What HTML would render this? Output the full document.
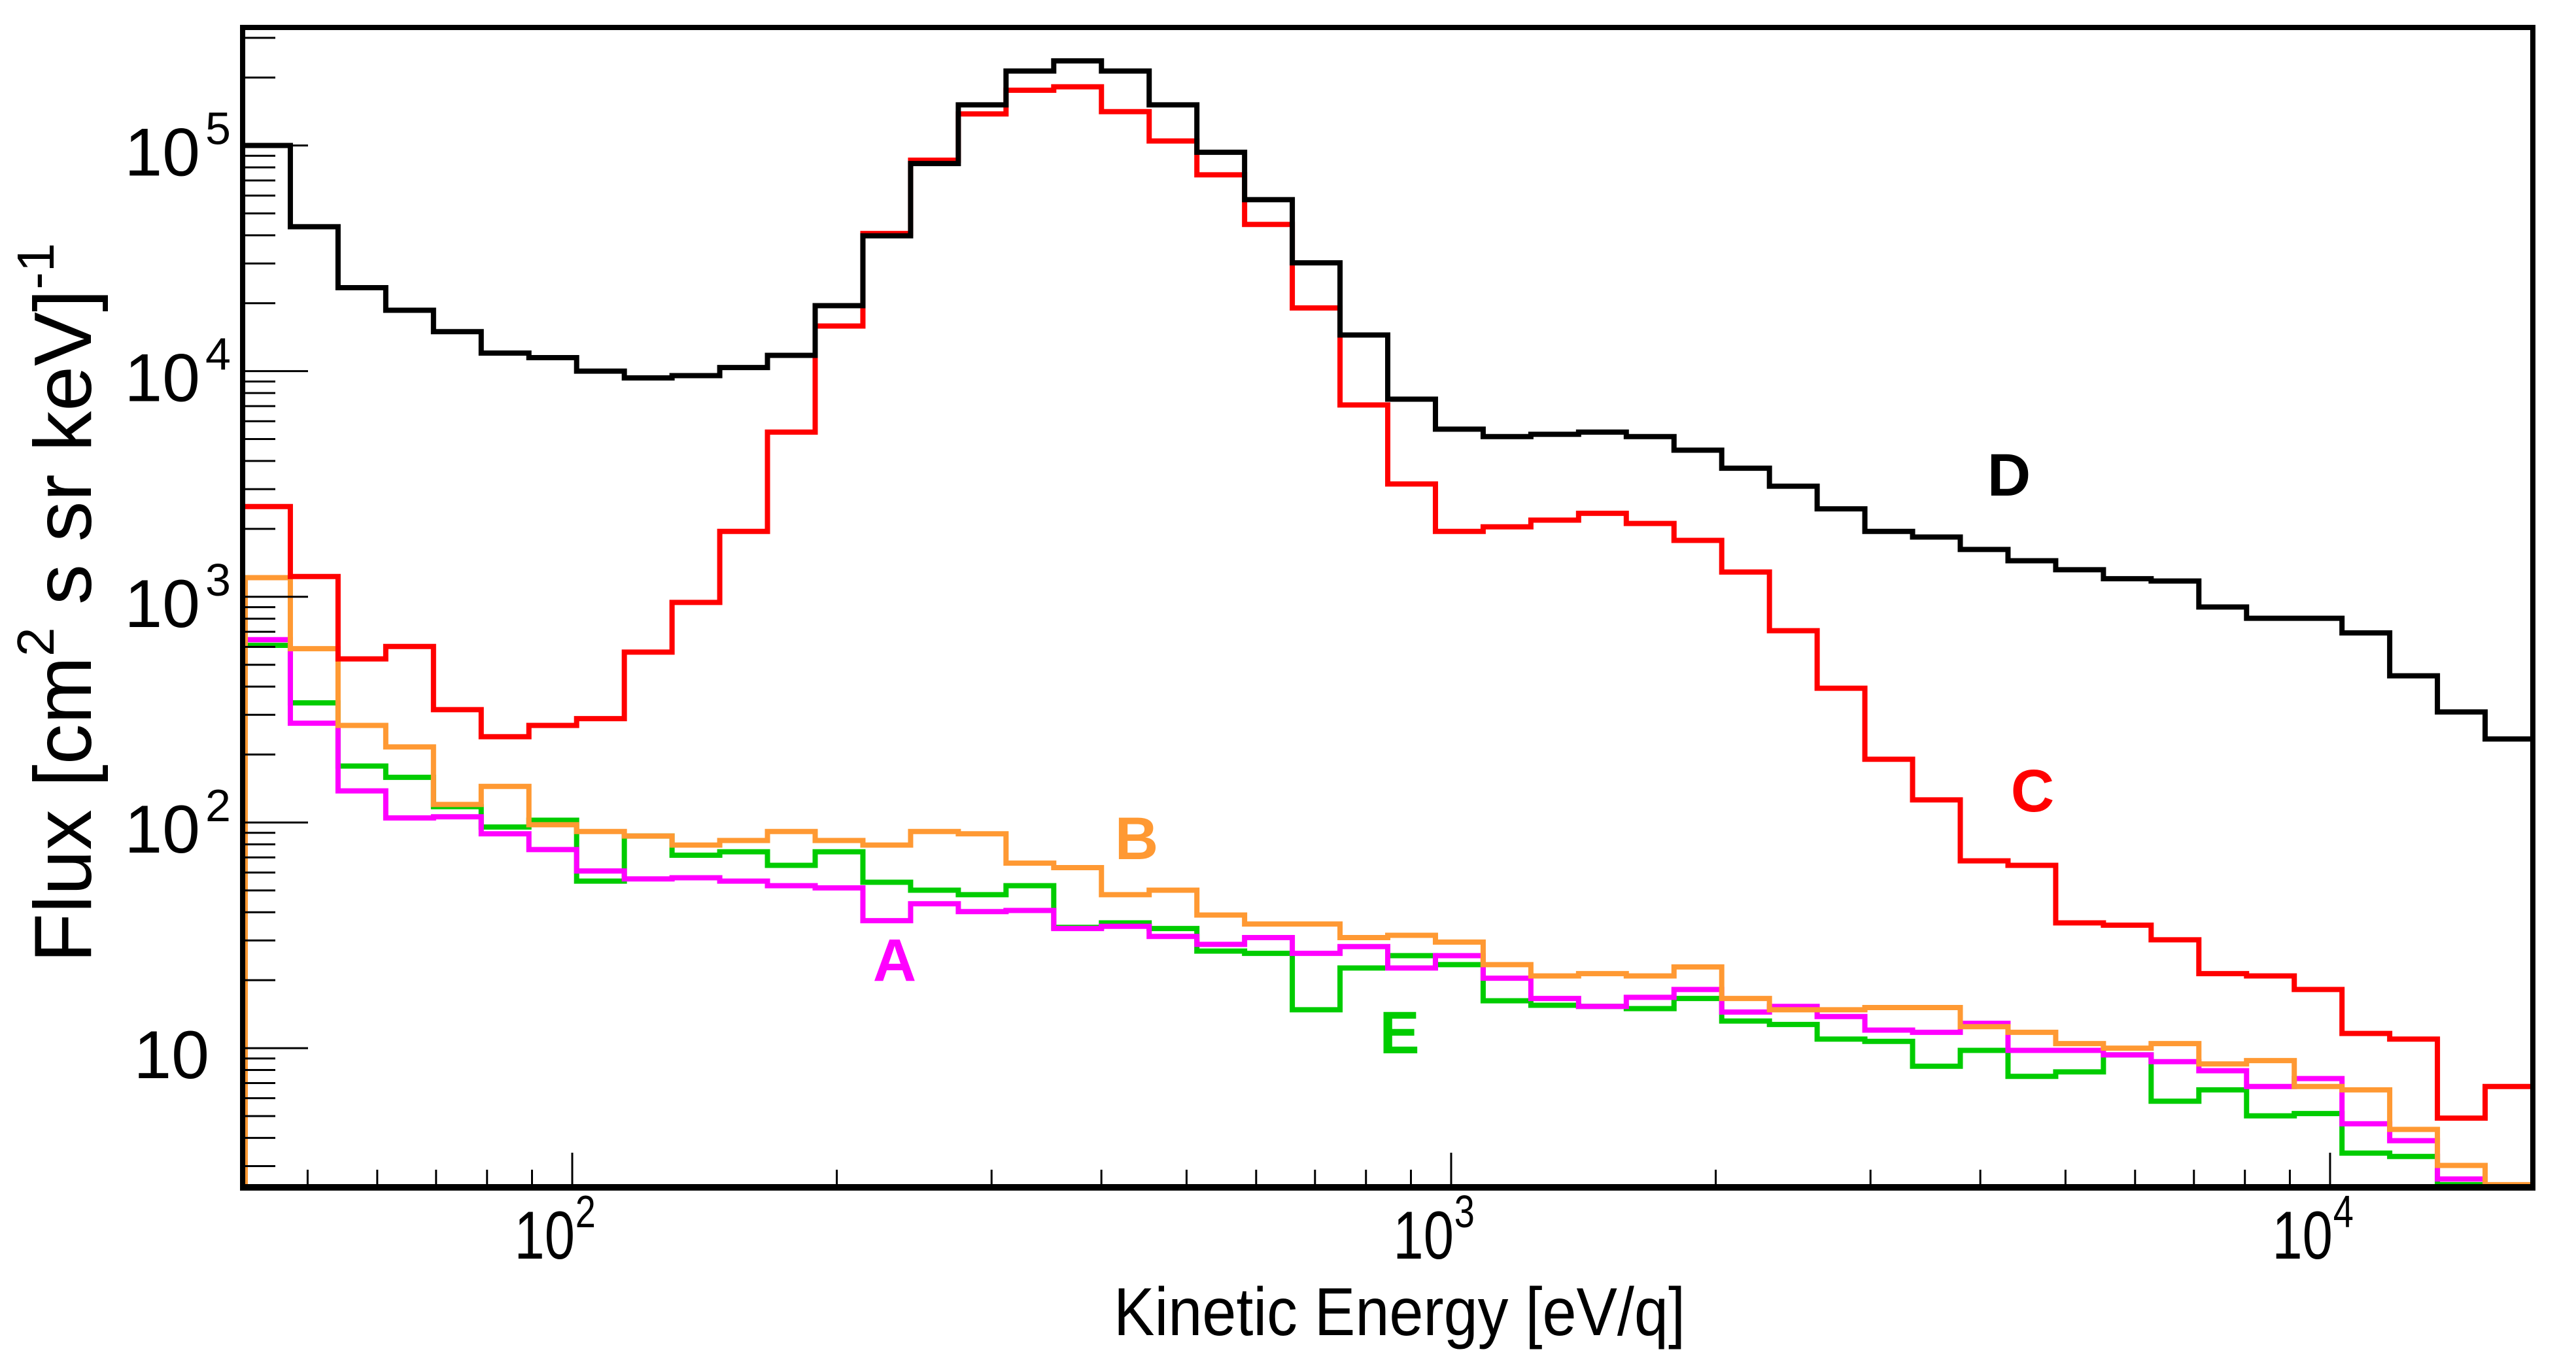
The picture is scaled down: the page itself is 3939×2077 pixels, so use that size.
<!DOCTYPE html>
<html><head><meta charset="utf-8"><style>
html,body{margin:0;padding:0;background:#fff;}
svg{display:block;font-family:"Liberation Sans",Arial,sans-serif;}
</style></head><body>
<svg id="chart" width="3939" height="2077" viewBox="0 0 3939 2077" xmlns="http://www.w3.org/2000/svg">
<rect x="0" y="0" width="3939" height="2077" fill="#fff"/>
<defs><clipPath id="plotclip"><rect x="371" y="42" width="3502" height="1773"/></clipPath></defs>
<g id="series" clip-path="url(#plotclip)"></g>
<g id="axes"></g>
<rect x="371" y="42" width="3502" height="1773" fill="none" stroke="#000" stroke-width="8"/>
<line x1="367" x2="3877" y1="1816" y2="1816" stroke="#000" stroke-width="10"/>
<text x="106" y="922" transform="rotate(-90 106 922)" text-anchor="middle" font-size="124" fill="#000" dominant-baseline="middle">Flux [cm<tspan font-size="80" dy="-45">2</tspan><tspan dy="45"> s sr keV]</tspan><tspan font-size="80" dy="-45">-1</tspan></text>
<text x="2140" y="2042" transform="translate(2140 0) scale(0.9 1) translate(-2140 0)" text-anchor="middle" font-size="104" fill="#000">Kinetic Energy [eV/q]</text>
<text x="3072" y="758" text-anchor="middle" font-size="92" font-weight="bold" fill="#000">D</text>
<text x="3108" y="1241" text-anchor="middle" font-size="92" font-weight="bold" fill="#ff0000">C</text>
<text x="1738" y="1314" text-anchor="middle" font-size="92" font-weight="bold" fill="#ff9933">B</text>
<text x="1368" y="1500" text-anchor="middle" font-size="92" font-weight="bold" fill="#ff00ff">A</text>
<text x="2140" y="1611" text-anchor="middle" font-size="92" font-weight="bold" fill="#00cc00">E</text>
</svg>
<script>
// log10 of flux per bin (48 log-spaced bins)
const seriesD = [5.0,4.64,4.37,4.27,4.175,4.08,4.06,4.0,3.97,3.98,4.016,4.07,4.29,4.60,4.92,5.18,5.33,5.375,5.33,5.18,4.97,4.76,4.48,4.16,3.876,3.743,3.71,3.72,3.73,3.71,3.65,3.57,3.49,3.39,3.29,3.265,3.21,3.16,3.12,3.08,3.07,2.955,2.905,2.905,2.84,2.65,2.49,2.37];
const seriesC = [3.40,3.09,2.725,2.78,2.50,2.38,2.43,2.46,2.755,2.975,3.29,3.73,4.20,4.61,4.935,5.14,5.245,5.26,5.15,5.02,4.87,4.65,4.28,3.85,3.50,3.29,3.31,3.34,3.37,3.325,3.25,3.11,2.85,2.595,2.28,2.10,1.83,1.81,1.555,1.545,1.48,1.33,1.32,1.26,1.065,1.04,0.69,0.83];
const seriesB = [3.085,2.77,2.43,2.335,2.08,2.16,1.99,1.96,1.94,1.90,1.92,1.96,1.92,1.90,1.96,1.95,1.82,1.80,1.68,1.70,1.59,1.55,1.55,1.49,1.50,1.47,1.37,1.32,1.33,1.32,1.36,1.22,1.17,1.17,1.18,1.18,1.095,1.07,1.02,1.0,1.02,0.93,0.945,0.83,0.815,0.64,0.48,0.395];
const seriesE = [2.785,2.53,2.25,2.20,2.07,1.98,2.01,1.74,1.94,1.855,1.87,1.81,1.87,1.735,1.70,1.68,1.72,1.535,1.555,1.53,1.43,1.42,1.17,1.355,1.41,1.37,1.21,1.19,1.185,1.175,1.22,1.12,1.105,1.04,1.03,0.92,0.99,0.875,0.895,0.97,0.765,0.815,0.70,0.71,0.535,0.52,0.395,0.39];
const seriesA = [2.81,2.44,2.14,2.02,2.025,1.95,1.88,1.785,1.75,1.755,1.74,1.72,1.71,1.565,1.64,1.605,1.61,1.53,1.54,1.495,1.46,1.49,1.42,1.45,1.355,1.41,1.31,1.22,1.185,1.225,1.26,1.16,1.185,1.14,1.08,1.07,1.11,0.99,0.99,0.97,0.94,0.90,0.83,0.865,0.665,0.59,0.42,0.39];
const xDomainLog = [1.625, 4.2307];
const yDomainLog = [0.386, 5.523];
const yMajorLabels = ["10","10","10","10","10"];
const yMajorExps = [1,2,3,4,5];
const xMajorExps = [2,3,4];

const NS = "http://www.w3.org/2000/svg";
const L = 371, R = 3873, T = 42, B = 1815;
function xs(lg){ return L + (lg - xDomainLog[0]) / (xDomainLog[1] - xDomainLog[0]) * (R - L); }
function ys(lg){ return B - (lg - yDomainLog[0]) / (yDomainLog[1] - yDomainLog[0]) * (B - T); }
function mk(tag, attrs, parent){ const e = document.createElementNS(NS, tag); for (const k in attrs) e.setAttribute(k, attrs[k]); parent.appendChild(e); return e; }

const sg = document.getElementById('series');
function drawHist(vals, color, width, name, fromBottom){
  const n = vals.length, bw = (xDomainLog[1] - xDomainLog[0]) / n;
  let d = fromBottom ? `M${xs(xDomainLog[0])+4},${B+10} L${xs(xDomainLog[0])+4},${ys(vals[0])}` : `M${xs(xDomainLog[0])},${ys(vals[0])}`;
  for (let i = 0; i < n; i++){
    const x0 = xs(xDomainLog[0] + i*bw), x1 = xs(xDomainLog[0] + (i+1)*bw), y = ys(vals[i]);
    d += ` L${x0},${y} L${x1},${y}`;
  }
  const p = mk('path', {d: d, fill: 'none', stroke: color, 'stroke-width': width, 'stroke-linejoin': 'miter'}, sg);
  
  
}
drawHist(seriesE, '#00cc00', 8, 'series-e-line', false);
drawHist(seriesA, '#ff00ff', 8, 'series-a-line', false);
drawHist(seriesB, '#ff9933', 8, 'series-b-line', true);
drawHist(seriesC, '#ff0000', 8, 'series-c-line', false);
drawHist(seriesD, '#000000', 8, 'series-d-line', false);

const ax = document.getElementById('axes');
for (let e = 0; e <= 5; e++){
  for (let m = 1; m <= 9; m++){
    const lg = e + Math.log10(m);
    if (lg < yDomainLog[0] || lg > yDomainLog[1]) continue;
    const y = ys(lg), len = m === 1 ? 100 : 50;
    const t = mk('line', {x1: L, x2: L+len, y1: y, y2: y, stroke: '#000', 'stroke-width': 3}, ax);
    
    
  }
}
yMajorExps.forEach((e, i) => {
  const y = ys(e) + 46;
  const t = mk('text', {x: e === 1 ? 320 : 306, y: y, 'text-anchor': 'end', 'font-size': 104, fill: '#000'}, ax);
  t.textContent = yMajorLabels[i];
  
  
  if (e > 1){
    const s = mk('text', {x: 314, y: y - 48, 'font-size': 70, fill: '#000'}, ax);
    s.textContent = String(e);
    
    
  }
});
for (let e = 1; e <= 4; e++){
  for (let m = 1; m <= 9; m++){
    const lg = e + Math.log10(m);
    if (lg < xDomainLog[0] || lg > xDomainLog[1]) continue;
    const x = xs(lg), len = m === 1 ? 52 : 26;
    const t = mk('line', {x1: x, x2: x, y1: B, y2: B-len, stroke: '#000', 'stroke-width': 3}, ax);
    
    
  }
}
xMajorExps.forEach(e => {
  const x = xs(e);
  const t = mk('text', {x: x + 5, y: 1925, 'text-anchor': 'end', 'font-size': 104, fill: '#000', transform: `translate(${x} 0) scale(0.8 1) translate(${-x} 0)`}, ax);
  t.textContent = '10';
  
  
  const s = mk('text', {x: x + 6, y: 1877, 'font-size': 70, fill: '#000', transform: `translate(${x} 0) scale(0.8 1) translate(${-x} 0)`}, ax);
  s.textContent = String(e);
  
  
});
</script>
</body></html>
